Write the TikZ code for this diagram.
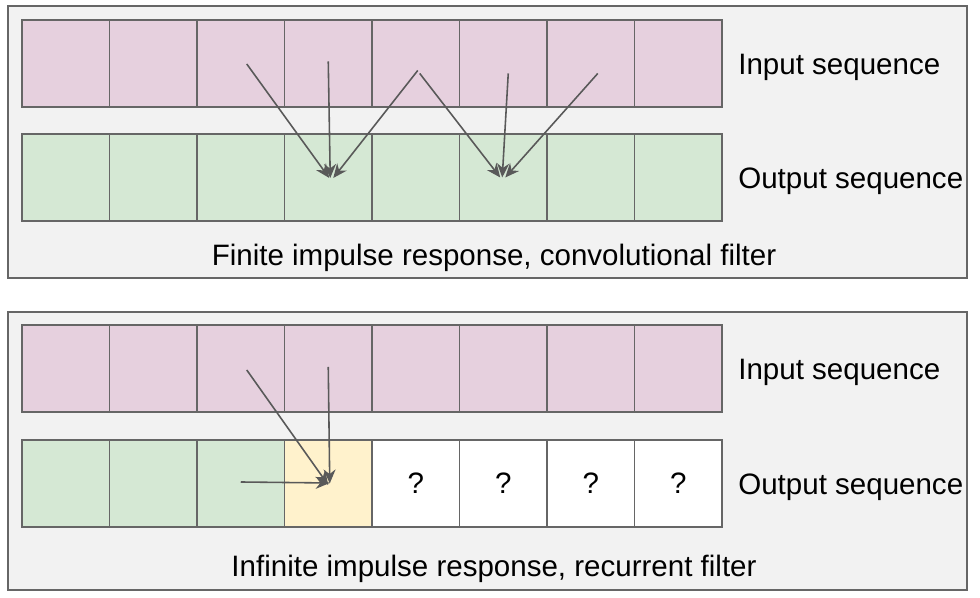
\documentclass[tikz,border=0pt]{standalone}
\usepackage{fontspec}
\setmainfont{Liberation Sans}
\usetikzlibrary{arrows.meta,positioning}
\definecolor{inpink}{HTML}{E6D0DE}
\definecolor{outgreen}{HTML}{D5E8D4}
\definecolor{curyellow}{HTML}{FFF2CC}
\definecolor{panelgray}{HTML}{F2F2F2}
\definecolor{edgegray}{HTML}{666666}
\definecolor{arrowgray}{HTML}{595959}

\begin{document}
\begin{tikzpicture}[
    panel/.style={rectangle, draw=edgegray, fill=panelgray, line width=0.8pt, inner sep=0pt},
    cell/.style={rectangle, draw=edgegray, line width=1.1pt, minimum width=1.75cm, minimum height=1.75cm, inner sep=0pt, outer sep=0pt, font=\fontsize{16.8}{20}\selectfont},
    label/.style={anchor=west, inner sep=0pt, font=\fontsize{16.8}{20}\selectfont},
    caption/.style={inner sep=0pt, font=\fontsize{16.8}{20}\selectfont},
    arrow/.style={-{Stealth[length=2.8mm, width=2.4mm]}, draw=arrowgray, fill=arrowgray, line width=0.9pt}
]
\useasboundingbox (0,0) rectangle (19.6,11.96);

% Panels
\node[panel, minimum width=19.18cm, minimum height=5.44cm] (firpanel) at (9.75,9.12) {};
\node[panel, minimum width=19.18cm, minimum height=5.56cm] (iirpanel) at (9.75,2.94) {};

% FIR input sequence
\node[cell, fill=inpink] (in1) at (1.315,10.69) {};
\node[cell, fill=inpink] (in2) at (3.065,10.69) {};
\node[cell, fill=inpink] (in3) at (4.815,10.69) {};
\node[cell, fill=inpink] (in4) at (6.565,10.69) {};
\node[cell, fill=inpink] (in5) at (8.315,10.69) {};
\node[cell, fill=inpink] (in6) at (10.065,10.69) {};
\node[cell, fill=inpink] (in7) at (11.815,10.69) {};
\node[cell, fill=inpink] (in8) at (13.565,10.69) {};

% FIR output sequence
\node[cell, fill=outgreen] (out1) at (1.315,8.41) {};
\node[cell, fill=outgreen] (out2) at (3.065,8.41) {};
\node[cell, fill=outgreen] (out3) at (4.815,8.41) {};
\node[cell, fill=outgreen] (out4) at (6.565,8.41) {};
\node[cell, fill=outgreen] (out5) at (8.315,8.41) {};
\node[cell, fill=outgreen] (out6) at (10.065,8.41) {};
\node[cell, fill=outgreen] (out7) at (11.815,8.41) {};
\node[cell, fill=outgreen] (out8) at (13.565,8.41) {};

% FIR labels
\node[label] (firin) at (14.76,10.61) {Input sequence};
\node[label] (firout) at (14.76,8.33) {Output sequence};
\node[caption] (fircap) at (9.88,6.80) {Finite impulse response, convolutional filter};

% IIR input sequence
\node[cell, fill=inpink] (rin1) at (1.315,4.59) {};
\node[cell, fill=inpink] (rin2) at (3.065,4.59) {};
\node[cell, fill=inpink] (rin3) at (4.815,4.59) {};
\node[cell, fill=inpink] (rin4) at (6.565,4.59) {};
\node[cell, fill=inpink] (rin5) at (8.315,4.59) {};
\node[cell, fill=inpink] (rin6) at (10.065,4.59) {};
\node[cell, fill=inpink] (rin7) at (11.815,4.59) {};
\node[cell, fill=inpink] (rin8) at (13.565,4.59) {};

% IIR output sequence
\node[cell, fill=outgreen] (rout1) at (1.315,2.29) {};
\node[cell, fill=outgreen] (rout2) at (3.065,2.29) {};
\node[cell, fill=outgreen] (rout3) at (4.815,2.29) {};
\node[cell, fill=curyellow] (rout4) at (6.565,2.29) {};
\node[cell, fill=white] (rout5) at (8.315,2.29) {\raisebox{-0.06cm}{?}};
\node[cell, fill=white] (rout6) at (10.065,2.29) {\raisebox{-0.06cm}{?}};
\node[cell, fill=white] (rout7) at (11.815,2.29) {\raisebox{-0.06cm}{?}};
\node[cell, fill=white] (rout8) at (13.565,2.29) {\raisebox{-0.06cm}{?}};

% IIR labels
\node[label] (iirin) at (14.76,4.51) {Input sequence};
\node[label] (iirout) at (14.76,2.21) {Output sequence};
\node[caption] (iircap) at (9.88,0.58) {Infinite impulse response, recurrent filter};

% FIR connections
\draw[arrow] ([xshift=0.12cm, yshift=-0.01cm]in3.center) -- ([xshift=0.02cm, yshift=-0.01cm]out4.center);
\draw[arrow] ([yshift=0.04cm]in4.center) -- ([xshift=0.04cm, yshift=-0.01cm]out4.center);
\draw[arrow] ([xshift=0.04cm, yshift=-0.14cm]in5.center) -- ([xshift=0.1cm, yshift=-0.01cm]out4.center);
\draw[arrow] ([xshift=0.08cm, yshift=-0.2cm]in5.center) -- ([xshift=-0.06cm, yshift=0cm]out6.center);
\draw[arrow] ([xshift=0.1cm, yshift=-0.2cm]in6.center) -- ([xshift=-0.02cm, yshift=0cm]out6.center);
\draw[arrow] ([xshift=0.14cm, yshift=-0.2cm]in7.center) -- ([xshift=0.04cm, yshift=0cm]out6.center);

% IIR connections
\draw[arrow] ([xshift=0.12cm, yshift=-0.03cm]rin3.center) -- ([xshift=0cm, yshift=-0.03cm]rout4.center);
\draw[arrow] ([yshift=0.03cm]rin4.center) -- ([xshift=0.03cm, yshift=0cm]rout4.center);
\draw[arrow] ([xshift=0.0cm, yshift=0.03cm]rout3.center) -- ([xshift=0.03cm, yshift=0.01cm]rout4.center);

\end{tikzpicture}
\end{document}
